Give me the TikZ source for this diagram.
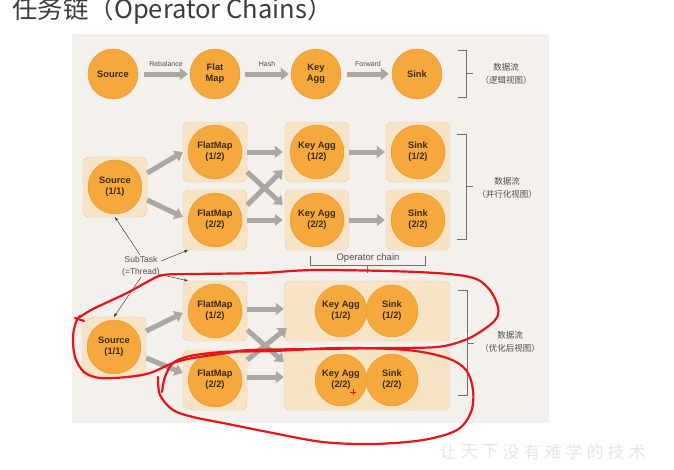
\documentclass[tikz,border=0pt]{standalone}
\usepackage{fontspec}
\setmainfont{Liberation Sans}
\newfontfamily\cjk{Noto Sans CJK SC}
\usetikzlibrary{arrows.meta,calc}
\definecolor{panel}{HTML}{F4F0EB}
\definecolor{opfill}{HTML}{F5A93C}
\definecolor{opline}{HTML}{E0952F}
\definecolor{boxfill}{HTML}{F7E4C6}
\definecolor{boxline}{HTML}{D2BB97}
\definecolor{flowgray}{HTML}{ABA7A2}
\definecolor{optext}{HTML}{3A2A18}
\definecolor{labeltext}{HTML}{4F4F4F}
\definecolor{bracketgray}{HTML}{707070}
\definecolor{pen}{HTML}{E8141C}
\definecolor{titletext}{HTML}{3C3C3C}
\definecolor{watermark}{HTML}{E6E6E6}
\begin{document}
\begin{tikzpicture}[x=1pt,y=-1pt,
  op/.style={circle, fill=opfill, draw=opline, line width=0.4pt, inner sep=0pt,
    minimum size=54pt, align=center, text=optext,
    font=\fontsize{9.3}{11}\selectfont\bfseries},
  topop/.style={op, minimum size=50pt},
  chainop/.style={op, minimum size=52pt},
  task/.style={rectangle, rounded corners=6pt, fill=boxfill, draw=boxline,
    line width=0.4pt, dash pattern=on 1.2pt off 1pt,
    minimum width=64pt, minimum height=60pt, inner sep=0pt},
  flow/.style={draw=flowgray, line width=5pt, -{Triangle[length=8pt,width=12pt]}},
  edgelabel/.style={font=\fontsize{7}{8}\selectfont, text=labeltext},
  pointer/.style={draw=black!80, line width=0.45pt, -{Stealth[length=4pt,width=3pt]}},
  bracket/.style={draw=bracketgray, line width=0.6pt},
  viewlabel/.style={align=center, text=labeltext, font=\cjk\fontsize{8.5}{12.5}\selectfont},
  redpen/.style={draw=pen, line width=2.2pt, line cap=round, line join=round}
]
\useasboundingbox (0,0) rectangle (674,469);
\clip (0,0) rectangle (674,469);

% heading (its top runs off the page edge)
\node[anchor=base west, inner sep=0pt, text=titletext,
  font=\cjk\fontsize{25.5}{26}\selectfont] (title) at (12,18) {任务链（Operator Chains）};

% panel
\fill[panel] (72,34) rectangle (549,423);

% ---- logical view ----
\node[topop] (lsrc) at (113,74) {Source};
\node[topop] (lfm) at (215,74) {Flat\\Map};
\node[topop] (lka) at (316,74) {Key\\Agg};
\node[topop] (lsk) at (417,74) {Sink};
\draw[flow] ([xshift=6pt]lsrc.east) -- ([xshift=-2pt]lfm.west)
  node[midway, yshift=10pt, edgelabel] {Rebalance};
\draw[flow] ([xshift=5pt]lfm.east) -- ([xshift=-2pt]lka.west)
  node[midway, yshift=10pt, edgelabel] {Hash};
\draw[flow] ([xshift=6pt]lka.east) -- ([xshift=-3pt]lsk.west)
  node[midway, yshift=10pt, edgelabel] {Forward};

% ---- parallel view ----
\node[task] (psrc) at (115,187) {};
\node[task] (pfm1) at (215,152) {};
\node[task] (pfm2) at (215,220) {};
\node[task] (pka1) at (317,152) {};
\node[task] (pka2) at (317,220) {};
\node[task] (psk1) at (418,152) {};
\node[task] (psk2) at (418,220) {};
\node[op] (psrcop) at (psrc) {Source\\(1/1)};
\node[op] (pfm1op) at (pfm1) {FlatMap\\(1/2)};
\node[op] (pfm2op) at (pfm2) {FlatMap\\(2/2)};
\node[op] (pka1op) at (pka1) {Key Agg\\(1/2)};
\node[op] (pka2op) at (pka2) {Key Agg\\(2/2)};
\node[op] (psk1op) at (psk1) {Sink\\(1/2)};
\node[op] (psk2op) at (psk2) {Sink\\(2/2)};
\draw[flow] ([yshift=14pt]psrc.east) -- (pfm1.west);
\draw[flow] ([yshift=-13pt]psrc.east) -- ([yshift=3pt]pfm2.west);
\draw[flow] (pfm1.east) -- ([xshift=-2pt]pka1.west);
\draw[flow] (pfm2.east) -- ([xshift=-2pt]pka2.west);
\draw[flow] ([yshift=-20pt]pfm1.east) -- ([xshift=-2pt,yshift=15pt]pka2.west);
\draw[flow] ([yshift=15pt]pfm2.east) -- ([xshift=-2pt,yshift=-18pt]pka1.west);
\draw[flow] (pka1.east) -- ([xshift=-1pt]psk1.west);
\draw[flow] (pka2.east) -- ([xshift=-1pt]psk2.west);

% operator chain bracket
\node[font=\fontsize{9.5}{11}\selectfont, text=labeltext] (opchain) at (368,258) {Operator chain};
\draw[bracket] (310,256) -- (310,265) -- (425,265) -- (425,256);
\draw[bracket] (367,265) -- (367,273);

% ---- optimized view ----
\node[task] (osrc) at (114,347) {};
\node[task] (ofm1) at (215,311) {};
\node[task] (ofm2) at (215,380) {};
\node[task, minimum width=166pt] (och1) at (367,311) {};
\node[task, minimum width=166pt] (och2) at (367,380) {};
\node[op] (osrcop) at (osrc) {Source\\(1/1)};
\node[op] (ofm1op) at (ofm1) {FlatMap\\(1/2)};
\node[op] (ofm2op) at (ofm2) {FlatMap\\(2/2)};
\node[chainop] (oka1) at (341,311) {Key Agg\\(1/2)};
\node[chainop] (osk1) at (392,311) {Sink\\(1/2)};
\node[chainop] (oka2) at (341,380) {Key Agg\\(2/2)};
\node[chainop] (osk2) at (392,380) {Sink\\(2/2)};
\draw[flow] ([yshift=16pt]osrc.east) -- ([yshift=-2pt]ofm1.west);
\draw[flow] ([yshift=-11pt]osrc.east) -- ([yshift=7pt]ofm2.west);
\draw[flow] ([yshift=2pt]ofm1.east) -- ([yshift=2pt]och1.west);
\draw[flow] ([yshift=3pt]ofm2.east) -- ([yshift=3pt]och2.west);
\draw[flow] ([yshift=-19pt]ofm1.east) -- ([yshift=18pt]och2.west);
\draw[flow] ([yshift=20pt]ofm2.east) -- ([xshift=3pt,yshift=-17pt]och1.west);

% subtask callout
\node[font=\fontsize{8.5}{12}\selectfont, text=labeltext, align=center, inner sep=1pt]
  (subtask) at (141,266) {SubTask\\(=Thread)};
\draw[pointer] ([xshift=-1pt]subtask.north) -- (psrc.south);
\draw[pointer] ([yshift=5pt]subtask.east) -- ([xshift=5pt]pfm2.south west);
\draw[pointer] (subtask.south) -- (osrc.north);
\draw[pointer] ([xshift=-2pt,yshift=3pt]subtask.south east) -- ([xshift=5pt]ofm1.north west);

% view braces
\draw[bracket] (458,50) -- (466,50) -- (466,97) -- (458,97) (466,73) -- (473,73);
\node[viewlabel] (v1) at (506,74) {数据流\\（逻辑视图）};
\draw[bracket] (457,134) -- (466,134) -- (466,239) -- (457,239) (466,186) -- (473,186);
\node[viewlabel] (v2) at (507,188) {数据流\\（并行化视图）};
\draw[bracket] (458,290) -- (467,290) -- (467,395) -- (458,395) (467,343) -- (474,343);
\node[viewlabel] (v3) at (510,342) {数据流\\（优化后视图）};

% hand-drawn red marks
\draw[redpen] plot[smooth, tension=0.55] coordinates {
  (80,317) (93,309) (127,293) (147,282) (163,275) (193,274) (260,273)
  (317,270) (417,272) (470,277) (489,289) (498,307) (496,319) (483,330)
  (465,340) (437,347) (383,348) (317,349) (250,350) (227,353) (193,358)
  (173,363) (150,373) (127,377) (100,378) (84,372) (75,357) (73,337)
  (76,322) (80,316)};
\draw[redpen] (75,318) -- (84,321);
\draw[redpen] plot[smooth, tension=0.55] coordinates {
  (158,377) (160,395) (173,410) (193,417) (223,423) (273,433) (323,442)
  (373,444) (423,440) (457,430) (471,412) (473,390) (466,370) (447,358)
  (407,350) (340,348) (273,351) (223,352) (190,356) (173,363) (165,377)
  (162,392)};
\draw[draw=pen, line width=0.9pt] (350,392) -- (356,392) (353,389) -- (353,395);

% watermark
\foreach \ch [count=\i] in {让,天,下,没,有,难,学,的,技,术}
  \node[text=watermark, font=\cjk\fontsize{17}{17}\selectfont] at (427+21*\i,452) {\ch};
\end{tikzpicture}
\end{document}
